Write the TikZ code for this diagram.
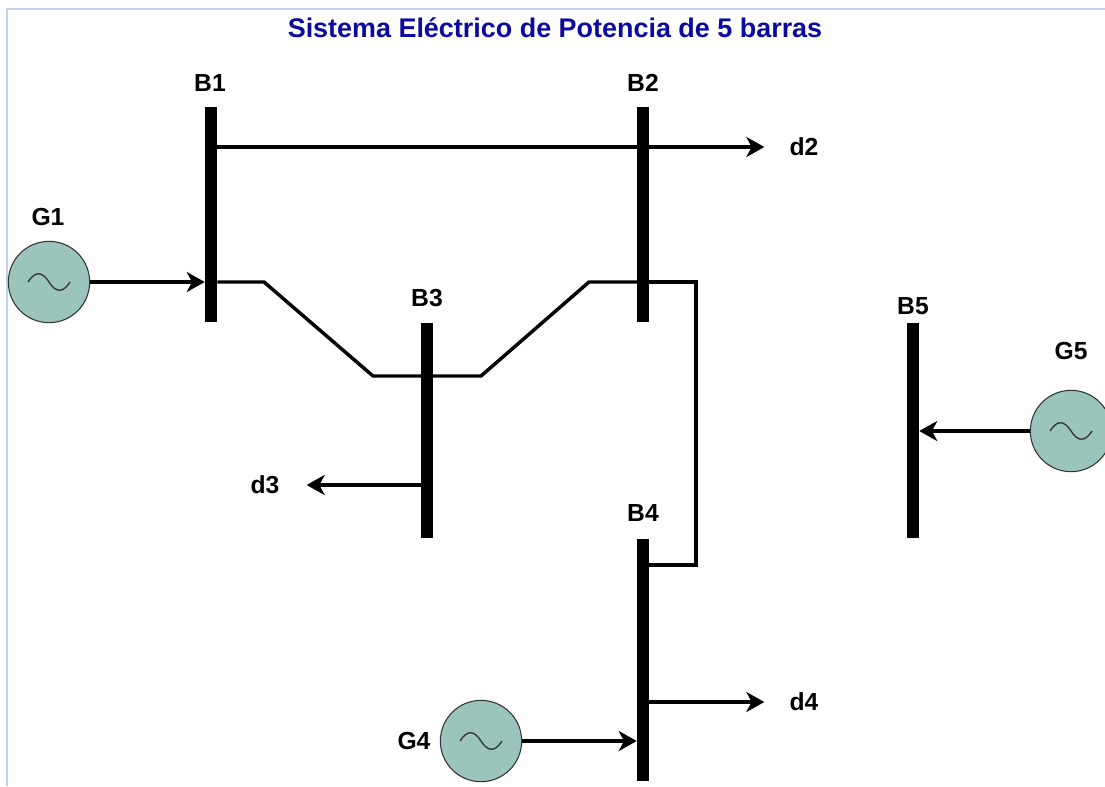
\documentclass[tikz,border=0pt]{standalone}
\usepackage{fontspec}
\setmainfont{Liberation Sans}
\usetikzlibrary{arrows.meta}
\definecolor{verdegen}{RGB}{154,196,188}
\definecolor{azultitulo}{RGB}{10,10,160}
\definecolor{marco}{RGB}{190,210,235}
\tikzset{
barra/.style={fill=black,inner sep=0pt,minimum width=9pt},
generador/.style={circle,draw=black!80,fill=verdegen,line width=0.8pt,inner sep=0pt,minimum size=61pt},
etiqueta/.style={inner sep=0.75pt,font=\fontsize{18.5}{22}\selectfont\bfseries},
linea/.style={line width=2.6pt,line join=miter},
flecha/.style={linea,-{Stealth[length=13.5pt,width=15pt,inset=4pt]}},
onda/.style={line width=1pt,black!80}
}
\begin{document}
\begin{tikzpicture}[x=0.75pt,y=0.75pt,yscale=-1,xscale=1]
\useasboundingbox (0,0) rectangle (1105,786);
%Marco
\draw [color=marco,line width=0.8pt] (7,786) -- (7,9) -- (1105,9);
%Titulo
\node (titulo) at (555,28) [inner sep=0.75pt,font=\fontsize{20.2}{24}\selectfont\bfseries,color=azultitulo] {Sistema Eléctrico de Potencia de 5 barras};
%Barras
\node (B1) at (211,214.5) [barra,minimum height=161.25pt] {};
\node (B2) at (643,214.5) [barra,minimum height=161.25pt] {};
\node (B3) at (427,430.5) [barra,minimum height=161.25pt] {};
\node (B4) at (643,659.5) [barra,minimum height=181.5pt] {};
\node (B5) at (913,430.5) [barra,minimum height=161.25pt] {};
%Generadores
\node (G1) at (49,282) [generador] {};
\node (G4) at (481,741) [generador] {};
\node (G5) at (1071,431) [generador] {};
\foreach \g in {G1,G4,G5}{
\begin{scope}[shift={(\g.center)}]
\draw [onda] (-21,0) .. controls (-14,-11) and (-7,-11) .. (0,0) .. controls (7,11) and (14,11) .. (21,0);
\end{scope}
}
%Etiquetas
\node (lB1) at (210,83) [etiqueta] {B1};
\node (lB2) at (643,83) [etiqueta] {B2};
\node (lB3) at (427,298) [etiqueta] {B3};
\node (lB4) at (643,513) [etiqueta] {B4};
\node (lB5) at (913,306) [etiqueta] {B5};
\node (lG1) at (48,217) [etiqueta] {G1};
\node (lG4) at (414,741) [etiqueta] {G4};
\node (lG5) at (1071,351) [etiqueta] {G5};
\node (d2) at (804,147) [etiqueta] {d2};
\node (d3) at (265,485) [etiqueta] {d3};
\node (d4) at (804,702) [etiqueta] {d4};
%Puntos de paso
\coordinate (p1) at (264,282);
\coordinate (p2) at (373,376);
\coordinate (p3) at (481,376);
\coordinate (p4) at (589,282);
\coordinate (p5) at (696,282);
\coordinate (p6) at (696,565);
%Lineas
\draw [linea] (B1.east |- G1.east) -- (p1) -- (p2) -- (B3.center |- p2);
\draw [linea] (B3.center |- p3) -- (p3) -- (p4) -- (B2.center |- p4);
\draw [linea] (B2.center |- p5) -- (p5) -- (p6) -- (B4.east |- p6);
%Flechas
\draw [flecha] (G1.east) -- (B1.west |- G1.east);
\draw [flecha] (G4.east) -- (B4.west |- G4.east);
\draw [flecha] (G5.west) -- (B5.east |- G5.west);
\draw [flecha,shorten >=18pt] (B1.east |- d2.west) -- (d2.west);
\draw [flecha,shorten >=19.5pt] (B3.west |- d3.east) -- (d3.east);
\draw [flecha,shorten >=18pt] (B4.east |- d4.west) -- (d4.west);
\end{tikzpicture}
\end{document}
